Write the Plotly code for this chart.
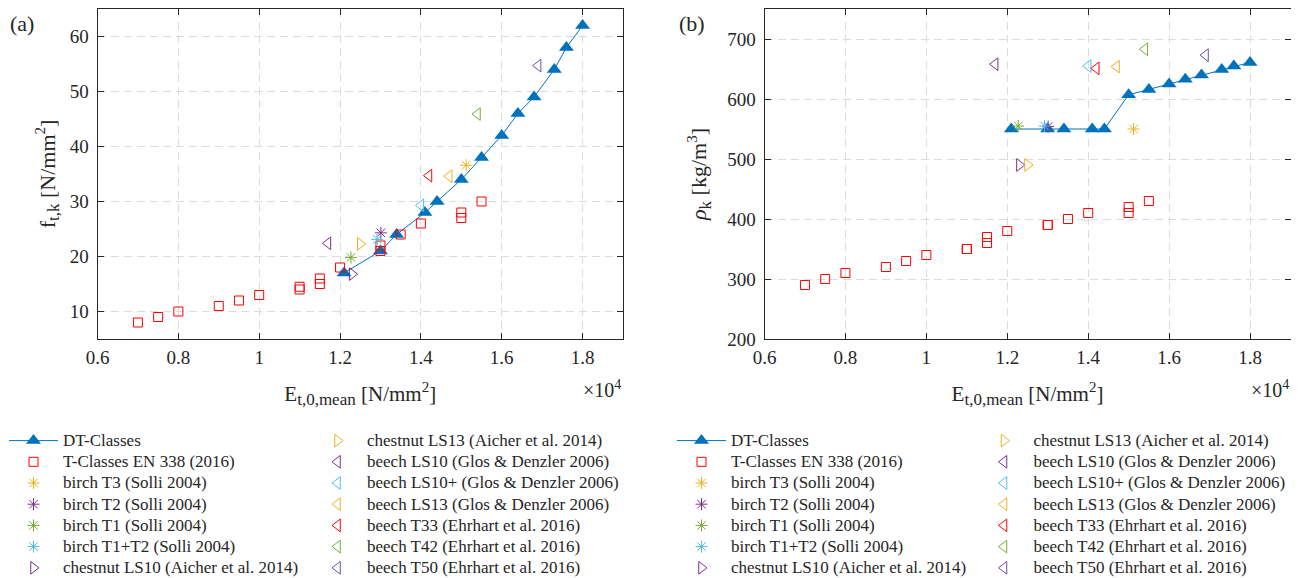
import plotly.graph_objects as go

# ---------------- data ----------------
E_DT = [12100, 13000, 13400, 14100, 14400, 15000, 15500, 16000, 16400, 16800, 17300, 17600, 18000]
ft_DT = [17, 21, 24, 28, 30, 34, 38, 42, 46, 49, 54, 58, 62]
rho_DT = [550, 550, 550, 550, 550, 607, 616, 625, 633, 640, 649, 655, 661]

E_T = [7000, 7500, 8000, 9000, 9500, 10000, 11000, 11000, 11500, 11500, 12000,
       13000, 13000, 13500, 14000, 15000, 15000, 15500]
ft_T = [8, 9, 10, 11, 12, 13, 14, 14.5, 15, 16, 18, 21, 22, 24, 26, 27, 28, 30]
rho_T = [290, 300, 310, 320, 330, 340, 350, 350, 360, 370, 380, 390, 390, 400, 410, 410, 420, 430]

pt_names = ["birch T3 (Solli 2004)", "birch T2 (Solli 2004)", "birch T1 (Solli 2004)",
            "birch T1+T2 (Solli 2004)", "chestnut LS10 (Aicher et al. 2014)",
            "chestnut LS13 (Aicher et al. 2014)", "beech LS10 (Glos & Denzler 2006)",
            "beech LS10+ (Glos & Denzler 2006)", "beech LS13 (Glos & Denzler 2006)",
            "beech T33 (Ehrhart et al. 2016)", "beech T42 (Ehrhart et al. 2016)",
            "beech T50 (Ehrhart et al. 2016)"]
E_pts = [15120, 13010, 12270, 12920, 12300, 12500, 11700, 14000, 14700, 14200, 15400, 16900]
ft_pts = [36.6, 24.3, 19.8, 23.1, 16.8, 22.3, 22.4, 29.3, 34.6, 34.7, 45.9, 54.7]
rho_pts = [550, 554, 555, 555, 490, 490, 658, 655, 654, 651, 683, 673]

x_tickvals = [6000, 8000, 10000, 12000, 14000, 16000, 18000]
x_ticktext = ["0.6", "0.8", "1", "1.2", "1.4", "1.6", "1.8"]
ya_tickvals = [10, 20, 30, 40, 50, 60]
yb_tickvals = [200, 300, 400, 500, 600, 700]

# ---------------- styles ----------------
pt_symbols = ["asterisk-open"] * 4 + ["triangle-right-open"] * 2 + ["triangle-left-open"] * 6
pt_colors = ["#EDB120", "#7E2F8E", "#77AC30", "#4DBEEE", "#7E2F8E", "#EDB120",
             "#7E2F8E", "#4DBEEE", "#EDB120", "#FF0000", "#77AC30", "#6B4EA8"]
pt_sizes = [10] * 4 + [11] * 8
BLUE = "#0072BD"
RED = "#FF0000"
TXT = "#262626"
FONT = "Liberation Serif"

# the page body has an 8px margin: the figure is sized and placed to fill the window
OFF = 8
W, H = 1299 - OFF, 578 - OFF


def px(xw):
    return (xw - OFF) / W


def py(yw):
    return (578 - yw) / H


def lg(s):
    return '<span style="font-size:17px">' + s + '</span>'


fig = go.Figure()

panels = [
    dict(xa="x", ya="y", yDT=ft_DT, yT=ft_T, ypts=ft_pts, legs=("legend", "legend2")),
    dict(xa="x2", ya="y2", yDT=rho_DT, yT=rho_T, ypts=rho_pts, legs=("legend3", "legend4")),
]

for p in panels:
    fig.add_trace(go.Scatter(
        x=E_DT, y=p["yDT"], mode="lines+markers", name=lg("DT-Classes"),
        xaxis=p["xa"], yaxis=p["ya"], legend=p["legs"][0],
        line=dict(color=BLUE, width=1),
        marker=dict(symbol="triangle-up", size=13, color=BLUE, line=dict(width=0)),
    ))
    fig.add_trace(go.Scatter(
        x=E_T, y=p["yT"], mode="markers", name=lg("T-Classes EN 338 (2016)"),
        xaxis=p["xa"], yaxis=p["ya"], legend=p["legs"][0],
        marker=dict(symbol="square-open", size=9, color=RED, line=dict(width=1, color=RED)),
    ))
    for i, nm in enumerate(pt_names):
        leg = p["legs"][0] if i < 5 else p["legs"][1]
        fig.add_trace(go.Scatter(
            x=[E_pts[i]], y=[p["ypts"][i]], mode="markers", name=lg(nm),
            xaxis=p["xa"], yaxis=p["ya"], legend=leg,
            marker=dict(symbol=pt_symbols[i], size=pt_sizes[i], color=pt_colors[i],
                        line=dict(width=1, color=pt_colors[i])),
        ))

ydom = [py(339), py(9)]

axis_common = dict(
    showline=True, linecolor=TXT, linewidth=1, mirror="allticks",
    ticks="inside", ticklen=6, tickwidth=1, tickcolor=TXT, automargin=False,
    showgrid=True, gridcolor="#dcdcdc", gridwidth=1, griddash="8px,5px",
    zeroline=False, tickfont=dict(family=FONT, size=19, color=TXT),
)

xtitle = ('E<sub><span style="font-size:17px">t,0,mean</span></sub> '
          '[N/mm<sup><span style="font-size:15px">2</span></sup>]')

fig.update_layout(
    width=W, height=H, margin=dict(l=0, r=0, t=0, b=0, autoexpand=False),
    paper_bgcolor="white", plot_bgcolor="white",
    font=dict(family=FONT, color=TXT),
    xaxis=dict(domain=[px(97.5), px(623)], range=[6000, 19000], anchor="y",
               tickvals=x_tickvals, ticktext=x_ticktext, ticklabelstandoff=1,
               title=dict(text=xtitle, font=dict(size=21, family=FONT, color=TXT), standoff=19),
               **axis_common),
    yaxis=dict(domain=ydom, range=[5, 65], anchor="x", tickvals=ya_tickvals,
               ticklabelstandoff=4,
               title=dict(text='f<sub><span style="font-size:17px">t,k</span></sub> '
                               '[N/mm<sup><span style="font-size:15px">2</span></sup>]',
                          font=dict(size=22, family=FONT, color=TXT), standoff=8),
               **axis_common),
    xaxis2=dict(domain=[px(764.5), px(1290.5)], range=[6000, 19000], anchor="y2",
                tickvals=x_tickvals, ticktext=x_ticktext, ticklabelstandoff=1,
                title=dict(text=xtitle, font=dict(size=21, family=FONT, color=TXT), standoff=19),
                **axis_common),
    yaxis2=dict(domain=ydom, range=[200, 750], anchor="x2", tickvals=yb_tickvals,
                ticklabelstandoff=4,
                title=dict(text='<i>ρ</i><sub><span style="font-size:17px">k</span></sub> '
                                '[kg/m<sup><span style="font-size:15px">3</span></sup>]',
                           font=dict(size=22, family=FONT, color=TXT), standoff=14),
                **axis_common),
    showlegend=True,
)

leg_common = dict(xanchor="left", yanchor="top", orientation="v", itemwidth=49,
                  font=dict(size=14, family=FONT, color=TXT), bgcolor="rgba(0,0,0,0)",
                  borderwidth=0, tracegroupgap=0)
ly = py(425)
fig.update_layout(
    legend=dict(x=px(4), y=ly, **leg_common),
    legend2=dict(x=px(308), y=ly, **leg_common),
    legend3=dict(x=px(672), y=ly, **leg_common),
    legend4=dict(x=px(974.5), y=ly, **leg_common),
)

# panel labels and exponent labels
for txt, xp in [("(a)", 8), ("(b)", 677)]:
    fig.add_annotation(text=txt, x=px(xp), y=py(24), xref="paper", yref="paper",
                       xanchor="left", yanchor="middle", showarrow=False,
                       font=dict(size=22, family=FONT, color=TXT))
for xp in [623, 1290.5]:
    fig.add_annotation(text="×10<sup>4</sup>", x=px(xp), y=py(389), xref="paper",
                       yref="paper", xanchor="right", yanchor="middle", showarrow=False,
                       font=dict(size=20, family=FONT, color=TXT))

fig.write_html("out.html")
